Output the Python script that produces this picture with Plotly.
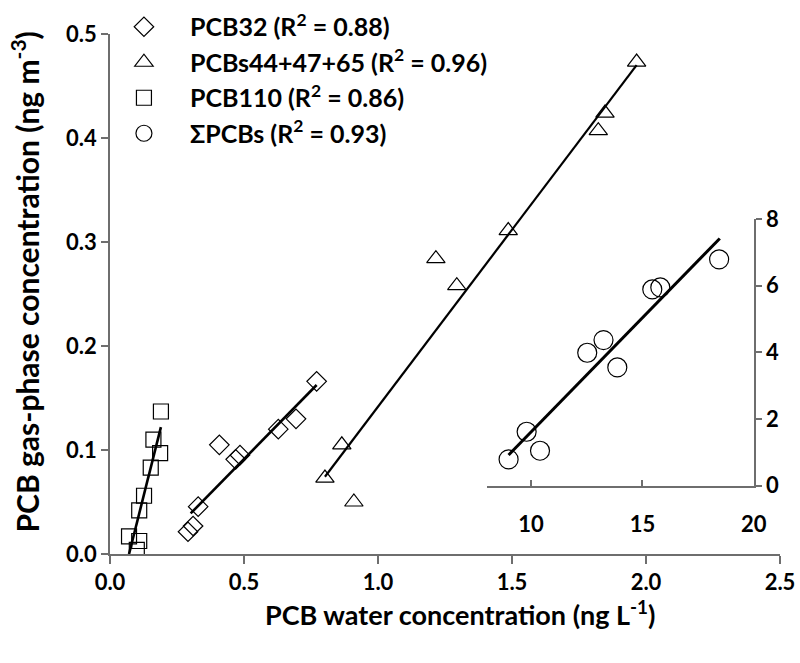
import plotly.graph_objects as go

# ---------------- data ----------------
pcb32_x = [0.291, 0.310, 0.329, 0.408, 0.469, 0.485, 0.628, 0.694, 0.771]
pcb32_y = [0.0214, 0.0269, 0.0455, 0.105, 0.091, 0.095, 0.120, 0.130, 0.166]
pcb32_fit_x = [0.301, 0.771]
pcb32_fit_y = [0.039, 0.1625]

pcb44_x = [0.802, 0.865, 0.910, 1.216, 1.294, 1.486, 1.822, 1.847, 1.965]
pcb44_y = [0.073, 0.105, 0.050, 0.284, 0.258, 0.311, 0.407, 0.424, 0.473]
pcb44_fit_x = [0.802, 1.965]
pcb44_fit_y = [0.0743, 0.470]

pcb110_x = [0.071, 0.100, 0.109, 0.109, 0.127, 0.152, 0.162, 0.187, 0.190]
pcb110_y = [0.017, 0.004, 0.0125, 0.042, 0.056, 0.083, 0.110, 0.097, 0.137]
pcb110_fit_x = [0.071, 0.190]
pcb110_fit_y = [0.0, 0.122]

sum_x = [8.99, 9.80, 10.40, 12.52, 13.25, 13.87, 15.44, 15.80, 18.44]
sum_y = [0.79, 1.62, 1.05, 3.99, 4.37, 3.55, 5.89, 5.95, 6.79]
sum_fit_x = [8.99, 18.47]
sum_fit_y = [0.92, 7.42]

main_xticks = [0.0, 0.5, 1.0, 1.5, 2.0, 2.5]
main_yticks = [0.0, 0.1, 0.2, 0.3, 0.4, 0.5]
inset_xticks = [10, 15, 20]
inset_yticks = [0, 2, 4, 6, 8]

names = ["<b>PCB32 (R<sup>2</sup> = 0.88)</b>",
         "<b>PCBs44+47+65 (R<sup>2</sup> = 0.96)</b>",
         "<b>PCB110 (R<sup>2</sup> = 0.86)</b>",
         "<b>\u03a3PCBs (R<sup>2</sup> = 0.93)</b>"]
x_title = "<b>PCB water concentration (ng L<sup>-1</sup>)</b>"
y_title = "<b>PCB gas-phase concentration (ng m<sup>-3</sup>)</b>"

FONT = "Lato"
AX = "#6e6e6e"

fig = go.Figure()

def pts(x, y, sym, size, name, xa="x", ya="y"):
    fig.add_trace(go.Scatter(x=x, y=y, mode="markers", name=name,
                             xaxis=xa, yaxis=ya,
                             marker=dict(symbol=sym, size=size, color="black",
                                         line=dict(color="black", width=1.2))))

def fit(x, y, w, xa="x", ya="y"):
    fig.add_trace(go.Scatter(x=x, y=y, mode="lines", showlegend=False,
                             xaxis=xa, yaxis=ya,
                             line=dict(color="black", width=w)))

fit(pcb32_fit_x, pcb32_fit_y, 2.6)
fit(pcb44_fit_x, pcb44_fit_y, 2.2)
fit(pcb110_fit_x, pcb110_fit_y, 2.6)
fit(sum_fit_x, sum_fit_y, 3.0, "x2", "y2")

pts(pcb32_x, pcb32_y, "diamond-open", 15, names[0])
pts(pcb44_x, pcb44_y, "triangle-up-open", 16, names[1])
pts(pcb110_x, pcb110_y, "square-open", 15, names[2])
pts(sum_x, sum_y, "circle-open", 19, names[3], "x2", "y2")

tickf = dict(family=FONT, size=22, weight="bold", color="black")

fig.update_layout(
    width=800, height=663,
    margin=dict(l=110, r=20, t=34, b=109, autoexpand=False),
    paper_bgcolor="white", plot_bgcolor="rgba(0,0,0,0)",
    font=dict(family=FONT, color="black", size=20),
    showlegend=True,
    legend=dict(x=-0.018, y=1.0577, xanchor="left", yanchor="top",
                bgcolor="rgba(0,0,0,0)",
                font=dict(family=FONT, size=25, color="black"),
                itemwidth=82, tracegroupgap=0),
    xaxis=dict(range=[0, 2.5], tickvals=main_xticks,
               ticktext=[f"{v:.1f}" for v in main_xticks],
               showgrid=False, zeroline=False, showline=True, linecolor=AX,
               linewidth=1.6, ticks="outside", ticklen=8, tickcolor=AX, tickwidth=1.6,
               tickfont=tickf),
    yaxis=dict(range=[0, 0.5], tickvals=main_yticks,
               ticktext=[f"{v:.1f}" for v in main_yticks],
               showgrid=False, zeroline=False, showline=True, linecolor=AX,
               linewidth=1.6, ticks="outside", ticklen=7, tickcolor=AX, tickwidth=1.6,
               tickfont=tickf),
    xaxis2=dict(domain=[0.562, 0.961], anchor="y2", range=[8, 20],
                tickvals=inset_xticks, showgrid=False, zeroline=False,
                showline=True, linecolor=AX, linewidth=1.6,
                ticks="inside", ticklen=6, tickcolor=AX, tickwidth=1.6,
                ticklabelstandoff=18, tickfont=tickf),
    yaxis2=dict(domain=[0.1313, 0.644], anchor="x2", side="right", range=[0, 8],
                tickvals=inset_yticks, showgrid=False, zeroline=False,
                showline=True, linecolor=AX, linewidth=1.6,
                ticks="outside", ticklen=6, tickcolor=AX, tickwidth=1.6,
                tickfont=tickf),
    annotations=[
        dict(text=x_title, xref="paper", yref="paper", x=0.522, y=-0.1125,
             xanchor="center", yanchor="middle", showarrow=False,
             font=dict(family=FONT, size=27, color="black")),
        dict(text=y_title, xref="paper", yref="paper", x=-0.1269, y=0.524,
             xanchor="center", yanchor="middle", showarrow=False, textangle=-90,
             font=dict(family=FONT, size=30, color="black")),
    ],
)

fig.write_html("out.html", config={"displayModeBar": False},
               post_script="document.body.style.margin='0';document.body.style.padding='0';")
